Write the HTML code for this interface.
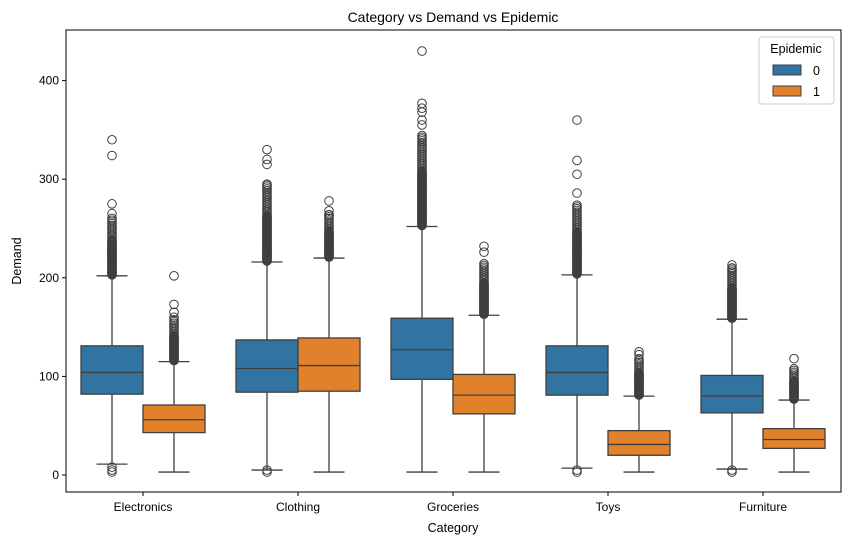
<!DOCTYPE html>
<html><head><meta charset="utf-8"><style>
body{margin:0;background:#fff;}
svg text{font-family:"Liberation Sans","DejaVu Sans",sans-serif;fill:#000;}
</style></head><body>
<svg id="chart" width="850" height="545" viewBox="0 0 850 545" xmlns="http://www.w3.org/2000/svg">
<rect width="850" height="545" fill="#fff"/>
<text x="453" y="22" font-size="14" text-anchor="middle">Category vs Demand vs Epidemic</text>
<g id="plot"></g>
<rect x="66" y="30" width="775" height="462" fill="none" stroke="#000" stroke-width="1"/>
<text x="453" y="532" font-size="12.5" text-anchor="middle">Category</text>
<text transform="translate(21,261) rotate(-90)" font-size="12.5" text-anchor="middle">Demand</text>
<g>
<rect x="759" y="37" width="75" height="67" rx="3" fill="#fff" stroke="#ccc"/>
<text x="796" y="53" font-size="12.5" text-anchor="middle">Epidemic</text>
<rect x="773" y="65" width="28" height="10" fill="#3274a1" stroke="#3f3f3f"/>
<text x="813" y="75" font-size="12.5">0</text>
<rect x="773" y="86" width="28" height="10" fill="#e1812c" stroke="#3f3f3f"/>
<text x="813" y="96" font-size="12.5">1</text>
</g>
</svg>
<script>
const categories=["Electronics","Clothing","Groceries","Toys","Furniture"];
const yTicks=[0,100,200,300,400];
// per category [epidemic0, epidemic1]
const q1=[[82,43],[84,85],[97,62],[81,20],[63,27]];
const medians=[[104,56],[108,111],[127,81],[104,31],[80,36]];
const q3=[[131,71],[137,139],[159,102],[131,45],[101,47]];
const whiskLo=[[11,3],[5,3],[3,3],[7,3],[6,3]];
const whiskHi=[[202,115],[216,220],[252,162],[203,80],[158,76]];
const denseHi=[[262,158],[294,265],[345,215],[275,118],[210,108]];
const sparseOut=[[[340,324,275,265],[202,173,165,160]],[[330,320,315,295],[278,268,264]],[[430,377,372,368,360,355],[232,226]],[[360,319,305,286],[125,122]],[[213,210],[118]]];
const lowOut=[[[3,5,8],[]],[[3,5],[]],[[],[]],[[3,5],[]],[[3,5],[]]];
const colors=["#3274a1","#e1812c"];
const ns="http://www.w3.org/2000/svg";
const g=document.getElementById("plot");
const svg=document.getElementById("chart");
function yS(v){return 475-v*0.986;}
function xC(i){return 143+i*155;}
function mk(tag,attrs,parent){const e=document.createElementNS(ns,tag);for(const k in attrs)e.setAttribute(k,attrs[k]);(parent||g).appendChild(e);return e;}
yTicks.forEach(t=>{
  const l=mk("line",{x1:62,x2:66,y1:yS(t),y2:yS(t),stroke:"#000"});
  
  
  const tx=mk("text",{x:59,y:yS(t)+4,"font-size":12,"text-anchor":"end"},svg);
  tx.textContent=t;
  
  
});
categories.forEach((c,i)=>{
  const l=mk("line",{x1:xC(i),x2:xC(i),y1:492,y2:496,stroke:"#000"},svg);
  
  
  const tx=mk("text",{x:xC(i),y:511,"font-size":12,"text-anchor":"middle"},svg);
  tx.textContent=c;
  
  
  for(let h=0;h<2;h++){
    const w=62, x0=xC(i)-w+h*w, cx=x0+w/2;
    const grp=mk("g",{});
    
    
    const ed="#3f3f3f";
    mk("line",{x1:cx,x2:cx,y1:yS(whiskHi[i][h]),y2:yS(q3[i][h]),stroke:ed,"stroke-width":1.3},grp);
    mk("line",{x1:cx,x2:cx,y1:yS(q1[i][h]),y2:yS(whiskLo[i][h]),stroke:ed,"stroke-width":1.3},grp);
    mk("line",{x1:cx-w/4,x2:cx+w/4,y1:yS(whiskHi[i][h]),y2:yS(whiskHi[i][h]),stroke:ed,"stroke-width":1.3},grp);
    mk("line",{x1:cx-w/4,x2:cx+w/4,y1:yS(whiskLo[i][h]),y2:yS(whiskLo[i][h]),stroke:ed,"stroke-width":1.3},grp);
    mk("rect",{x:x0,y:yS(q3[i][h]),width:w,height:yS(q1[i][h])-yS(q3[i][h]),fill:colors[h],stroke:ed,"stroke-width":1.3},grp);
    mk("line",{x1:x0,x2:x0+w,y1:yS(medians[i][h]),y2:yS(medians[i][h]),stroke:ed,"stroke-width":1.3},grp);
    const pts=[];
    const span=denseHi[i][h]-whiskHi[i][h];
    for(let v=whiskHi[i][h]+1;v<=denseHi[i][h];){pts.push(v);v+=(v-whiskHi[i][h]<span*0.6)?0.7:1.8;}
    sparseOut[i][h].forEach(v=>pts.push(v));
    lowOut[i][h].forEach(v=>pts.push(v));
    pts.forEach(v=>{
      const ci=mk("circle",{cx:cx,cy:yS(v),r:4.3,fill:"none",stroke:ed,"stroke-width":1},grp);
      
      
    });
  }
});
</script>
</body></html>
